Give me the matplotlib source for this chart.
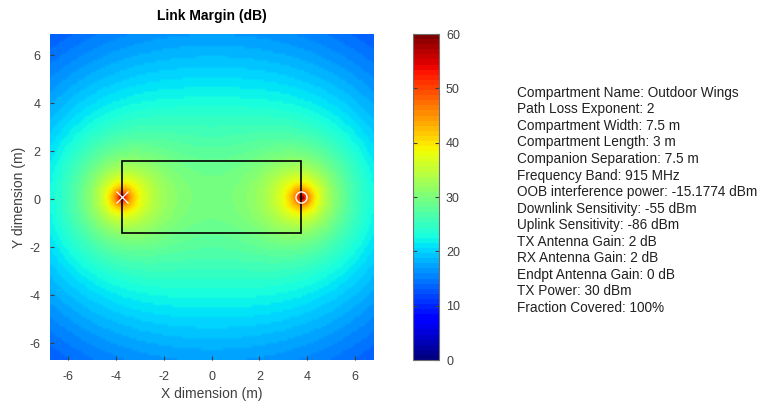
import numpy as np
import matplotlib.pyplot as plt
from matplotlib.patches import Rectangle

plt.rcParams['font.family'] = ['Liberation Sans', 'DejaVu Sans']
plt.rcParams['axes.unicode_minus'] = False

# compartment / link settings (as listed on the chart)
info_labels = [
    "Compartment Name: Outdoor Wings",
    "Path Loss Exponent: 2",
    "Compartment Width: 7.5 m",
    "Compartment Length: 3 m",
    "Companion Separation: 7.5 m",
    "Frequency Band: 915 MHz",
    "OOB interference power: -15.1774 dBm",
    "Downlink Sensitivity: -55 dBm",
    "Uplink Sensitivity: -86 dBm",
    "TX Antenna Gain: 2 dB",
    "RX Antenna Gain: 2 dB",
    "Endpt Antenna Gain: 0 dB",
    "TX Power: 30 dBm",
    "Fraction Covered: 100%",
]
path_loss_exp = 2
comp_width = 7.5
comp_length = 3.0
y_center = 0.08
tx_pos = (-3.75, y_center)
rx_pos = (3.75, y_center)
margin_at_1m = 52.5   # margin (dB) when d_tx * d_rx = 1 m^2
x_range = (-6.75, 6.75)
y_range = (-6.7, 6.88)
cell = 0.1
cbar_ticks = [0, 10, 20, 30, 40, 50, 60]

# link margin field from the two antenna distances
xs = np.arange(x_range[0] + cell / 2, x_range[1], cell)
ys = np.arange(y_range[0] + cell / 2, y_range[1], cell)
X, Y = np.meshgrid(xs, ys)
d_tx = np.hypot(X - tx_pos[0], Y - tx_pos[1])
d_rx = np.hypot(X - rx_pos[0], Y - rx_pos[1])
margin = margin_at_1m - 10 * path_loss_exp * np.log10(np.maximum(d_tx * d_rx, 1e-3))
margin = np.clip(margin, 0, 60)

fig = plt.figure(figsize=(7.62, 4.09), dpi=100)
ax = fig.add_axes([0.0656, 0.1198, 0.424, 0.797])
im = ax.imshow(margin, origin='lower', cmap=plt.get_cmap('jet', 64), vmin=0, vmax=60,
               extent=[x_range[0], x_range[1], y_range[0], y_range[1]],
               interpolation='bilinear', aspect='auto')
ax.add_patch(Rectangle((-comp_width / 2, y_center - comp_length / 2), comp_width, comp_length,
                       fill=False, edgecolor='black', linewidth=1.2))
ax.plot(tx_pos[0], tx_pos[1], marker='x', color='white', markersize=8, mew=0.9)
ax.plot(rx_pos[0], rx_pos[1], marker='o', mfc='none', mec='white', markersize=8, mew=1.0)
ax.set_xlim(x_range)
ax.set_ylim(y_range)
ax.set_xticks([-6, -4, -2, 0, 2, 4, 6])
ax.set_yticks([-6, -4, -2, 0, 2, 4, 6])
ax.tick_params(direction='in', length=3, colors='#404040', labelsize=9)
ax.tick_params(axis='x', pad=8)
ax.tick_params(axis='y', pad=7)
for s in ax.spines.values():
    s.set_visible(False)
ax.set_xlabel('X dimension (m)', fontsize=10, color='#404040', labelpad=3)
ax.set_ylabel('Y dimension (m)', fontsize=10, color='#404040', labelpad=2)
ax.set_title('Link Margin (dB)', fontsize=10, fontweight='bold', pad=10)

cax = fig.add_axes([0.5425, 0.1198, 0.0337, 0.797])
cb = fig.colorbar(im, cax=cax, ticks=cbar_ticks)
cax.tick_params(direction='in', length=3, colors='#404040', labelsize=9,
                left=True, right=True, pad=5)
cb.outline.set_edgecolor('#707070')
cb.outline.set_linewidth(0.8)

fig.text(0.6785, 0.79, "\n".join(info_labels), fontsize=9.8, va='top', ha='left',
         linespacing=1.23, color='#202020')

fig.savefig('out.png', dpi=100)
